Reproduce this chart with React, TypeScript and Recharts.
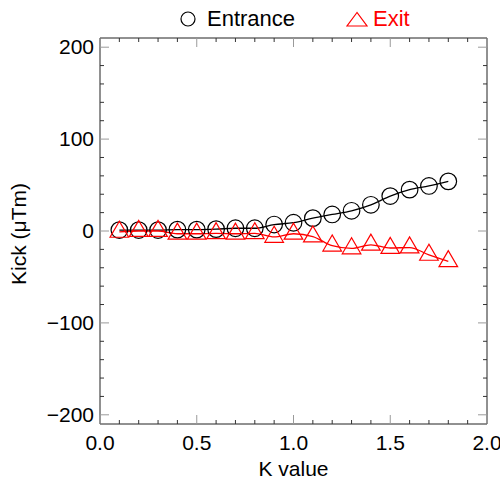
import { ComposedChart, Line, XAxis, YAxis, Legend } from 'recharts';

const kValues = [0.1, 0.2, 0.3, 0.4, 0.5, 0.6, 0.7, 0.8, 0.9, 1.0, 1.1, 1.2, 1.3, 1.4, 1.5, 1.6, 1.7, 1.8];
const entrance = [1, 1, 1, 1.5, 1.5, 2, 3, 3, 7, 9, 14, 18, 22, 28.5, 38, 45, 49, 54];
const exit = [-1, 0, 0, -3, -3, -2.5, -3, -2.6, -6.5, -3, -6, -16, -19, -15, -18.5, -18, -26, -33];

const xTicks = [0, 0.1, 0.2, 0.3, 0.4, 0.5, 0.6, 0.7, 0.8, 0.9, 1.0, 1.1, 1.2, 1.3, 1.4, 1.5, 1.6, 1.7, 1.8, 1.9, 2.0];
const xMajor = [0, 0.5, 1.0, 1.5, 2.0];
const yTicks = [-200, -180, -160, -140, -120, -100, -80, -60, -40, -20, 0, 20, 40, 60, 80, 100, 120, 140, 160, 180, 200];
const yMajor = [-200, -100, 0, 100, 200];

const FONT = '"Liberation Sans", Arial, sans-serif';
const MAJOR_LEN = 9;
const MINOR_LEN = 4;
const MAJOR_COLOR = '#9a9a9a';
const MINOR_COLOR = '#333';

const data = kValues.map((k, i) => ({ k, entrance: entrance[i], exit: exit[i] }));

const isMajor = (list: number[], v: number) => list.some((m) => Math.abs(m - v) < 1e-6);
const fmtY = (v: number) => (v < 0 ? '\u2212' + Math.abs(v) : String(v));

// inward tick marks, labels only on major ticks
function makeTick(side: 'bottom' | 'top' | 'left' | 'right') {
  return (props: any) => {
    const { x, y, payload } = props;
    const v = payload.value;
    const major = isMajor(side === 'bottom' || side === 'top' ? xMajor : yMajor, v);
    const len = major ? MAJOR_LEN : MINOR_LEN;
    const stroke = major ? MAJOR_COLOR : MINOR_COLOR;
    let line;
    if (side === 'bottom') line = <line x1={x} y1={y} x2={x} y2={y - len} stroke={stroke} />;
    else if (side === 'top') line = <line x1={x} y1={y} x2={x} y2={y + len} stroke={stroke} />;
    else if (side === 'left') line = <line x1={x} y1={y} x2={x + len} y2={y} stroke={stroke} />;
    else line = <line x1={x} y1={y} x2={x - len} y2={y} stroke={stroke} />;
    let label = null;
    if (major && side === 'bottom') {
      label = (
        <text x={x} y={y + 26} textAnchor="middle" fontSize={21} fontFamily={FONT} fill="#000">
          {v.toFixed(1)}
        </text>
      );
    } else if (major && side === 'left') {
      label = (
        <text x={x - 6} y={y + 7} textAnchor="end" fontSize={21} fontFamily={FONT} fill="#000">
          {fmtY(v)}
        </text>
      );
    }
    return (
      <g>
        {line}
        {label}
      </g>
    );
  };
}

const CircleDot = (props: any) => {
  const { cx, cy, index } = props;
  return <circle key={'c' + index} cx={cx} cy={cy} r={8.3} fill="none" stroke="#000" strokeWidth={1.2} />;
};

const TriangleDot = (props: any) => {
  const { cx, cy, index } = props;
  const h = 16;
  const hw = 9.3;
  const pts = `${cx},${cy - (2 * h) / 3} ${cx - hw},${cy + h / 3} ${cx + hw},${cy + h / 3}`;
  return <polygon key={'t' + index} points={pts} fill="none" stroke="#ff0000" strokeWidth={1.2} />;
};

const LegendContent = () => (
  <div
    style={{
      display: 'flex',
      alignItems: 'center',
      fontFamily: FONT,
      fontSize: 22,
      paddingLeft: 180,
    }}
  >
    <svg width={16} height={16} style={{ marginRight: 11 }}>
      <circle cx={8} cy={8} r={7} fill="none" stroke="#000" strokeWidth={1.2} />
    </svg>
    <span style={{ color: '#000' }}>Entrance</span>
    <svg width={22} height={16} style={{ marginLeft: 51, marginRight: 5 }}>
      <polygon points="11,1.5 1,15 21,15" fill="none" stroke="#ff0000" strokeWidth={1.2} />
    </svg>
    <span style={{ color: '#ff0000' }}>Exit</span>
  </div>
);

export default function App() {
  return (
    <div style={{ position: 'absolute', left: 0, top: 0, width: 500, height: 491, background: '#fff' }}>
      <ComposedChart width={500} height={491} data={data} margin={{ top: 37, right: 12, bottom: 66, left: 99 }}>
        <Legend
          verticalAlign="middle"
          layout="horizontal"
          content={LegendContent}
          wrapperStyle={{ top: 6, left: 0, width: 500 }}
        />
        <XAxis
          xAxisId="bottom"
          dataKey="k"
          type="number"
          domain={[0, 2]}
          ticks={xTicks}
          interval={0}
          height={1}
          tickSize={0}
          tickMargin={0}
          tickLine={false}
          axisLine={{ stroke: '#222' }}
          tick={makeTick('bottom')}
          allowDataOverflow
          label={{
            content: (p: any) => {
              const vb = p.viewBox;
              return (
                <text x={vb.x + vb.width / 2} y={vb.y + 52} textAnchor="middle" fontSize={21} fontFamily={FONT} fill="#000">
                  K value
                </text>
              );
            },
          }}
        />
        <XAxis
          xAxisId="top"
          orientation="top"
          dataKey="k"
          type="number"
          domain={[0, 2]}
          ticks={xTicks}
          interval={0}
          height={1}
          tickSize={0}
          tickMargin={0}
          tickLine={false}
          axisLine={{ stroke: '#222' }}
          tick={makeTick('top')}
          allowDataOverflow
        />
        <YAxis
          yAxisId="left"
          type="number"
          domain={[-210, 210]}
          ticks={yTicks}
          interval={0}
          width={1}
          tickSize={0}
          tickMargin={0}
          tickLine={false}
          axisLine={{ stroke: '#222' }}
          tick={makeTick('left')}
          allowDataOverflow
          label={{
            content: (p: any) => {
              const vb = p.viewBox;
              const cx = vb.x - 73;
              const cy = vb.y + vb.height / 2 + 3;
              return (
                <text
                  x={cx}
                  y={cy}
                  transform={`rotate(-90 ${cx} ${cy})`}
                  textAnchor="middle"
                  fontSize={21}
                  fontFamily={FONT}
                  fill="#000"
                >
                  Kick (μTm)
                </text>
              );
            },
          }}
        />
        <YAxis
          yAxisId="right"
          orientation="right"
          type="number"
          domain={[-210, 210]}
          ticks={yTicks}
          interval={0}
          width={1}
          tickSize={0}
          tickMargin={0}
          tickLine={false}
          axisLine={{ stroke: '#222' }}
          tick={makeTick('right')}
          allowDataOverflow
        />
        <Line
          xAxisId="bottom"
          yAxisId="left"
          type="monotone"
          dataKey="entrance"
          stroke="#000"
          strokeWidth={1.3}
          dot={CircleDot}
          activeDot={false}
          isAnimationActive={false}
          legendType="none"
        />
        <Line
          xAxisId="bottom"
          yAxisId="left"
          type="monotone"
          dataKey="exit"
          stroke="#ff0000"
          strokeWidth={1.3}
          dot={TriangleDot}
          activeDot={false}
          isAnimationActive={false}
          legendType="none"
        />
      </ComposedChart>
    </div>
  );
}
